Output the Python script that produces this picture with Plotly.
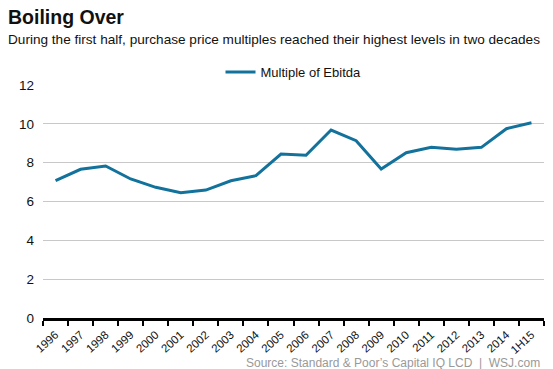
import plotly.graph_objects as go

categories = ["1996", "1997", "1998", "1999", "2000", "2001", "2002", "2003", "2004", "2005",
              "2006", "2007", "2008", "2009", "2010", "2011", "2012", "2013", "2014", "1H15"]
multiple_of_ebitda = [7.07, 7.66, 7.83, 7.16, 6.73, 6.45, 6.59, 7.07, 7.33, 8.44,
                      8.38, 9.68, 9.13, 7.67, 8.51, 8.79, 8.69, 8.79, 9.75, 10.06]
y_ticks = [0, 2, 4, 6, 8, 10, 12]

font = "Liberation Sans, Arial, sans-serif"

L, R, T, B = 43, 9, 85, 51
W, H = 553, 369
PW, PH = W - L - R, H - T - B


def px_x(x):
    return (x - L) / PW


def px_y(y):
    return (H - B - y) / PH


fig = go.Figure()
fig.add_trace(go.Scatter(
    x=categories, y=multiple_of_ebitda, mode="lines", name="Multiple of Ebitda",
    line=dict(color="#13729b", width=3), showlegend=True,
))

fig.update_layout(
    width=W, height=H,
    margin=dict(l=L, r=R, t=T, b=B, autoexpand=False),
    paper_bgcolor="white", plot_bgcolor="white",
    font=dict(family=font, color="#111", size=12),
    showlegend=True,
    legend=dict(orientation="h", x=0.5, xanchor="center", y=px_y(57), yanchor="top",
                font=dict(size=13, color="#111"), itemwidth=30,
                bgcolor="rgba(0,0,0,0)"),
    xaxis=dict(
        type="category", tickson="boundaries", ticks="outside", ticklen=5, tickwidth=2,
        tickcolor="black", showline=True, linecolor="black", linewidth=2.5,
        showgrid=False, tickangle=-42, tickfont=dict(size=11.5, color="#111"),
        ticklabelstandoff=3,
        range=[-0.5, len(categories) - 0.5], automargin=False,
    ),
    yaxis=dict(
        range=[0, 12], tickvals=y_ticks, showgrid=True, gridcolor="#c8c8c8", gridwidth=1,
        zeroline=False, showline=False, ticks="", tickfont=dict(size=13.5, color="#111"),
        ticklabelstandoff=8, automargin=False,
    ),
)

fig.add_annotation(text="<b>Boiling Over</b>", xref="paper", yref="paper",
                   x=px_x(6), y=px_y(4), xanchor="left", yanchor="top",
                   showarrow=False, font=dict(size=19.5, color="#111", family=font))
fig.add_annotation(text="During the first half, purchase price multiples reached their highest levels in two decades",
                   xref="paper", yref="paper",
                   x=px_x(6), y=px_y(30), xanchor="left", yanchor="top",
                   showarrow=False, font=dict(size=13.6, color="#111", family=font))
fig.add_annotation(text="Source: Standard & Poor’s Capital IQ LCD  |  WSJ.com",
                   xref="paper", yref="paper",
                   x=px_x(542), y=px_y(354), xanchor="right", yanchor="top",
                   showarrow=False, font=dict(size=12, color="#999", family=font))

fig.write_html("out.html", post_script="document.body.style.margin='0';",
               config={"displayModeBar": False})
